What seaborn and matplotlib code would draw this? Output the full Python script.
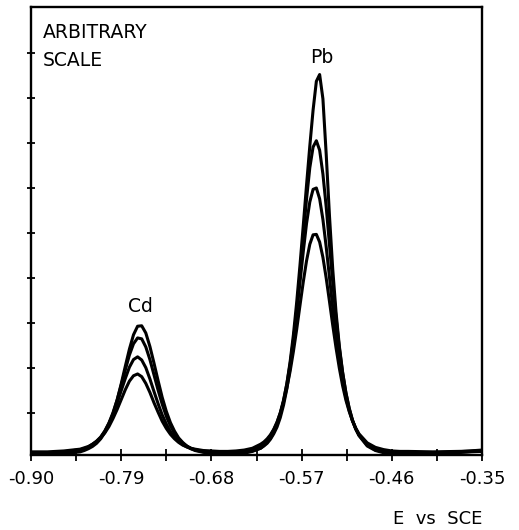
import pandas as pd
import matplotlib
matplotlib.use("Agg")
import matplotlib.pyplot as plt
import seaborn as sns
from matplotlib.ticker import FixedLocator, NullFormatter

# Potential axis (V vs SCE)
potential = [
    -0.90, -0.88, -0.86,
    -0.84, -0.835, -0.83, -0.825, -0.82, -0.815, -0.81, -0.805, -0.80, -0.795,
    -0.79, -0.785, -0.78, -0.775, -0.77, -0.765, -0.76, -0.755, -0.75, -0.745,
    -0.74, -0.735, -0.73, -0.725, -0.72, -0.715, -0.71, -0.705, -0.70,
    -0.69, -0.68, -0.67, -0.66, -0.65, -0.64, -0.63,
    -0.62, -0.616, -0.612, -0.608, -0.604, -0.60, -0.596, -0.592, -0.588, -0.584,
    -0.58, -0.576, -0.572, -0.568, -0.564, -0.56, -0.556, -0.552, -0.548, -0.544,
    -0.54, -0.536, -0.532, -0.528, -0.524, -0.52, -0.516, -0.512, -0.508, -0.504,
    -0.50, -0.49, -0.48, -0.47, -0.46, -0.45, -0.44, -0.41, -0.38, -0.35,
]

# Stripping currents (arbitrary scale), one trace per concentration
trace_1 = [
    0.08, 0.08, 0.10,
    0.14, 0.17, 0.21, 0.26, 0.33, 0.43, 0.57, 0.75, 0.99, 1.29,
    1.65, 2.04, 2.42, 2.74, 2.93, 2.94, 2.78, 2.48, 2.11, 1.72,
    1.35, 1.04, 0.79, 0.60, 0.45, 0.35, 0.27, 0.21, 0.17,
    0.13, 0.10, 0.09, 0.09, 0.10, 0.11, 0.15,
    0.22, 0.28, 0.35, 0.44, 0.57, 0.74, 0.97, 1.27, 1.65, 2.14,
    2.74, 3.46, 4.28, 5.16, 6.06, 6.93, 7.73, 8.37, 8.52, 7.98,
    6.75, 5.38, 4.19, 3.24, 2.49, 1.91, 1.45, 1.11, 0.84, 0.65,
    0.50, 0.27, 0.17, 0.12, 0.10, 0.09, 0.09, 0.10, 0.12, 0.17,
]
trace_2 = [
    0.10, 0.10, 0.12,
    0.17, 0.19, 0.23, 0.29, 0.36, 0.46, 0.60, 0.78, 1.01, 1.29,
    1.62, 1.96, 2.29, 2.54, 2.67, 2.65, 2.47, 2.19, 1.85, 1.51,
    1.20, 0.93, 0.72, 0.55, 0.43, 0.33, 0.27, 0.22, 0.18,
    0.14, 0.12, 0.11, 0.11, 0.11, 0.13, 0.16,
    0.22, 0.27, 0.33, 0.42, 0.54, 0.69, 0.90, 1.18, 1.54, 2.01,
    2.59, 3.28, 4.08, 4.93, 5.75, 6.45, 6.91, 7.05, 6.84, 6.31,
    5.58, 4.74, 3.90, 3.12, 2.45, 1.90, 1.46, 1.11, 0.85, 0.65,
    0.51, 0.29, 0.18, 0.14, 0.12, 0.11, 0.11, 0.12, 0.14, 0.18,
]
trace_3 = [
    0.12, 0.12, 0.14,
    0.19, 0.21, 0.25, 0.31, 0.38, 0.47, 0.60, 0.77, 0.97, 1.22,
    1.50, 1.77, 2.02, 2.19, 2.25, 2.18, 2.01, 1.76, 1.48, 1.21,
    0.96, 0.76, 0.59, 0.47, 0.37, 0.30, 0.25, 0.21, 0.19,
    0.15, 0.14, 0.13, 0.13, 0.14, 0.16, 0.19,
    0.28, 0.33, 0.40, 0.50, 0.63, 0.79, 1.01, 1.29, 1.65, 2.09,
    2.62, 3.23, 3.90, 4.58, 5.21, 5.69, 5.97, 6.00, 5.76, 5.30,
    4.69, 4.02, 3.34, 2.72, 2.17, 1.72, 1.35, 1.06, 0.83, 0.65,
    0.52, 0.31, 0.21, 0.16, 0.14, 0.13, 0.12, 0.12, 0.13, 0.15,
]
trace_4 = [
    0.14, 0.14, 0.16,
    0.20, 0.23, 0.26, 0.31, 0.37, 0.45, 0.56, 0.70, 0.88, 1.08,
    1.30, 1.52, 1.71, 1.83, 1.87, 1.81, 1.66, 1.46, 1.23, 1.02,
    0.82, 0.66, 0.53, 0.43, 0.35, 0.29, 0.25, 0.22, 0.20,
    0.17, 0.16, 0.15, 0.15, 0.16, 0.18, 0.22,
    0.31, 0.36, 0.43, 0.52, 0.64, 0.80, 1.00, 1.25, 1.56, 1.93,
    2.37, 2.86, 3.39, 3.91, 4.38, 4.75, 4.96, 4.97, 4.80, 4.46,
    4.00, 3.48, 2.95, 2.45, 2.00, 1.61, 1.29, 1.04, 0.83, 0.67,
    0.54, 0.34, 0.24, 0.19, 0.16, 0.15, 0.15, 0.14, 0.15, 0.16,
]

x_ticks = [-0.90, -0.79, -0.68, -0.57, -0.46, -0.35]
x_tick_labels = ["-0.90", "-0.79", "-0.68", "-0.57", "-0.46", "-0.35"]
x_minor_ticks = [-0.845, -0.735, -0.625, -0.515, -0.405]
y_ticks = [1, 2, 3, 4, 5, 6, 7, 8, 9]

traces = [trace_1, trace_2, trace_3, trace_4]
df = pd.concat(
    [pd.DataFrame({"E": potential, "I": t, "trace": k}) for k, t in enumerate(traces)],
    ignore_index=True,
)

sns.set_style("ticks")
plt.rcParams["font.family"] = ["DejaVu Sans"]
plt.rcParams["text.color"] = "black"
plt.rcParams["xtick.color"] = "black"
plt.rcParams["ytick.color"] = "black"

fig = plt.figure(figsize=(5.19, 5.30), dpi=100)
ax = fig.add_axes([31 / 519, 75 / 530, 451 / 519, 448 / 530])

sns.lineplot(data=df, x="E", y="I", hue="trace", palette=["black"] * 4,
             legend=False, linewidth=2.2, errorbar=None, ax=ax)

ax.set_xlim(-0.90, -0.35)
ax.set_ylim(0.07, 10.02)
ax.set_xticks(x_ticks)
ax.set_xticklabels(x_tick_labels, fontsize=13)
ax.xaxis.set_minor_locator(FixedLocator(x_minor_ticks))
ax.set_yticks(y_ticks)
ax.yaxis.set_major_formatter(NullFormatter())
ax.tick_params(axis="x", which="both", direction="inout", length=9, width=1.3, pad=6)
ax.tick_params(axis="y", which="both", direction="inout", length=6, width=1.3)
for s in ax.spines.values():
    s.set_linewidth(1.7)
    s.set_color("black")
ax.set_xlabel("")
ax.set_ylabel("")

ax.text(0.027, 0.931, "ARBITRARY", transform=ax.transAxes, fontsize=13.5, va="baseline")
ax.text(0.027, 0.868, "SCALE", transform=ax.transAxes, fontsize=13.5, va="baseline")
ax.text(-0.767, 3.24, "Cd", ha="center", va="baseline", fontsize=13.5)
ax.text(-0.545, 8.78, "Pb", ha="center", va="baseline", fontsize=13.5)
fig.text(482 / 519, 1 - 524 / 530, "E  vs  SCE", ha="right", va="baseline", fontsize=13)

fig.savefig("out.png", dpi=100)
